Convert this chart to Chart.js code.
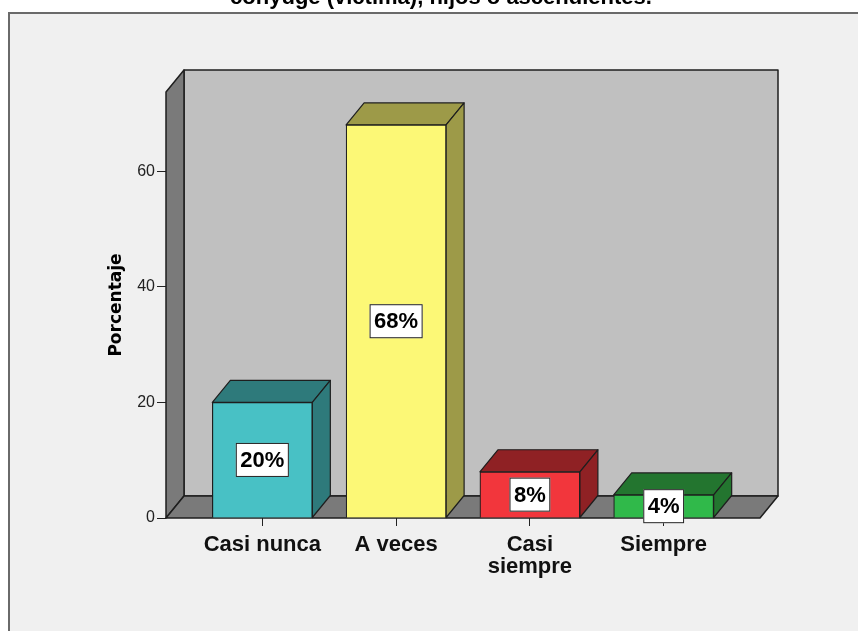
<!DOCTYPE html>
<html>
<head>
<meta charset="utf-8">
<style>
  html, body { margin: 0; padding: 0; background: #fff; }
  #wrap { width: 858px; height: 631px; }
</style>
<script src="https://cdn.jsdelivr.net/npm/chart.js@4.4.1/dist/chart.umd.min.js"></script>
</head>
<body>
<div id="wrap"><canvas id="chart" width="858" height="631"></canvas></div>
<script>
// --- data ---
const chartTitle = "cónyuge (víctima), hijos o ascendientes.";
const categories = ["Casi nunca", "A veces", "Casi siempre", "Siempre"];
const tickLabels = [["Casi nunca"], ["A veces"], ["Casi", "siempre"], ["Siempre"]];
const percentages = [20, 68, 8, 4];
const valueLabels = ["20%", "68%", "8%", "4%"];
const yTicks = [0, 20, 40, 60];
const frontColors = ["#48c1c5", "#fcf876", "#f2363c", "#30b94a"];
const shadeColors = ["#2e7a7b", "#9d9a48", "#8f2124", "#23752f"];

// depth of the fake 3D box
const DX = 18, DY = -22;
const LINE = "#1e1e1e";

function poly(ctx, pts, fill) {
  ctx.beginPath();
  ctx.moveTo(pts[0][0], pts[0][1]);
  for (let i = 1; i < pts.length; i++) ctx.lineTo(pts[i][0], pts[i][1]);
  ctx.closePath();
  ctx.fillStyle = fill;
  ctx.fill();
  ctx.stroke();
}

const box3d = {
  id: "box3d",
  beforeDraw(chart) {
    const ctx = chart.ctx;
    ctx.save();
    ctx.fillStyle = "#fff";
    ctx.fillRect(0, 0, chart.width, chart.height);
    ctx.fillStyle = "#f0f0f0";
    ctx.fillRect(9, 13, chart.width, chart.height);
    ctx.strokeStyle = "#6a6a6a";
    ctx.lineWidth = 2;
    ctx.beginPath();
    ctx.moveTo(9, chart.height);
    ctx.lineTo(9, 13);
    ctx.lineTo(chart.width, 13);
    ctx.stroke();
    // title, clipped by the top edge like the source
    ctx.fillStyle = "#000";
    ctx.font = 'bold 22px "Liberation Sans", Arial, sans-serif';
    ctx.textAlign = "center";
    ctx.textBaseline = "alphabetic";
    ctx.fillText(chartTitle, 441, 4);
    ctx.restore();
  },
  beforeDatasetsDraw(chart) {
    const { ctx, chartArea: a } = chart;
    ctx.save();
    ctx.strokeStyle = LINE;
    ctx.lineWidth = 1.5;
    ctx.lineJoin = "round";
    // back wall
    poly(ctx, [[a.left + DX, a.top + DY], [a.right + DX, a.top + DY],
               [a.right + DX, a.bottom + DY], [a.left + DX, a.bottom + DY]], "#c0c0c0");
    // left wall
    poly(ctx, [[a.left, a.bottom], [a.left, a.top], [a.left + DX, a.top + DY],
               [a.left + DX, a.bottom + DY]], "#7a7a7a");
    // floor
    poly(ctx, [[a.left, a.bottom], [a.left + DX, a.bottom + DY],
               [a.right + DX, a.bottom + DY], [a.right, a.bottom]], "#7a7a7a");
    // bar tops and sides
    ctx.lineWidth = 1.2;
    chart.getDatasetMeta(0).data.forEach((bar, i) => {
      const l = bar.x - bar.width / 2, r = bar.x + bar.width / 2;
      const t = bar.y, b = bar.base;
      poly(ctx, [[l, t], [l + DX, t + DY], [r + DX, t + DY], [r, t]], shadeColors[i]);
      poly(ctx, [[r, t], [r + DX, t + DY], [r + DX, b + DY], [r, b]], shadeColors[i]);
    });
    ctx.restore();
  },
  afterDatasetsDraw(chart) {
    const ctx = chart.ctx;
    ctx.save();
    ctx.font = 'bold 22px "Liberation Sans", Arial, sans-serif';
    ctx.textAlign = "center";
    ctx.textBaseline = "middle";
    chart.getDatasetMeta(0).data.forEach((bar, i) => {
      const cx = bar.x, cy = (bar.y + bar.base) / 2;
      const w = ctx.measureText(valueLabels[i]).width + 9, h = 34;
      ctx.fillStyle = "#fff";
      ctx.fillRect(cx - w / 2, cy - h / 2, w, h);
      ctx.strokeStyle = "#222";
      ctx.lineWidth = 1;
      ctx.strokeRect(cx - w / 2 + 0.5, cy - h / 2 + 0.5, w - 1, h - 1);
      ctx.fillStyle = "#000";
      ctx.fillText(valueLabels[i], cx, cy + 1);
    });
    ctx.restore();
  }
};

const ctx = document.getElementById("chart").getContext("2d");
new Chart(ctx, {
  type: "bar",
  data: {
    datasets: [{
      label: "Porcentaje",
      data: percentages.map((v, i) => ({ x: i, y: v })),
      backgroundColor: frontColors,
      borderColor: LINE,
      borderWidth: 1.2,
      barThickness: 100
    }]
  },
  options: {
    responsive: false,
    animation: false,
    layout: { padding: { top: 92, right: 98, left: 0, bottom: 0 } },
    plugins: {
      legend: { display: false },
      tooltip: { enabled: false }
    },
    scales: {
      x: {
        type: "linear",
        offset: false,
        min: -0.72,
        max: categories.length - 1 + 0.72,
        afterBuildTicks: s => { s.ticks = categories.map((c, i) => ({ value: i })); },
        afterFit: s => { s.height = 113; },
        grid: { offset: false, drawOnChartArea: false, drawTicks: true, tickLength: 8, color: "#222" },
        border: { display: false },
        ticks: {
          autoSkip: false,
          maxRotation: 0,
          padding: 8,
          color: "#111",
          font: { family: '"Liberation Sans", Arial, sans-serif', size: 22, weight: "bold", lineHeight: 1.0 },
          callback: v => tickLabels[v]
        }
      },
      y: {
        min: 0,
        max: 73.7,
        afterBuildTicks: s => { s.ticks = yTicks.map(v => ({ value: v })); },
        afterFit: s => { s.width = 166; },
        grid: { drawOnChartArea: false, drawTicks: true, tickLength: 9, color: "#222" },
        border: { display: false },
        ticks: {
          padding: 2,
          color: "#222",
          font: { family: '"Liberation Sans", Arial, sans-serif', size: 16 }
        },
        title: {
          display: true,
          text: "Porcentaje",
          color: "#000",
          padding: { top: 106, bottom: 0 },
          font: { family: '"DejaVu Sans", sans-serif', size: 17, weight: "bold" }
        }
      }
    }
  },
  plugins: [box3d]
});
</script>
</body>
</html>
